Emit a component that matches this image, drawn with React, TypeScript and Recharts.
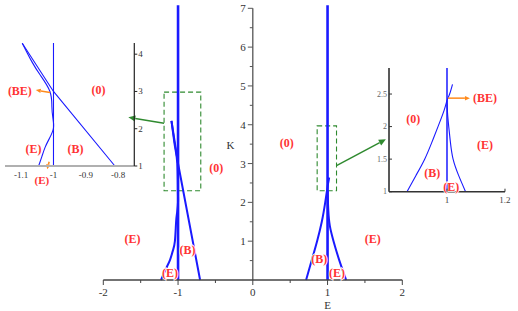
import React from "react";
import { ComposedChart, Line, XAxis, YAxis, ReferenceArea, ReferenceDot, ReferenceLine } from "recharts";

const FONT = '"Liberation Serif", "DejaVu Serif", serif';
const RED = "#ff3333";
const BLUE = "#1a1aff";
const GREEN = "#2f8a2f";
const ORANGE = "#ff8a1c";

type Pt = { E: number; K: number };
type Lbl = { E: number; K: number; text: string };

// main plot
const mainTicksE = [-2, -1.5, -1, -0.5, 0, 0.5, 1, 1.5, 2];
const mainTicksK = [0.5, 1, 1.5, 2, 2.5, 3, 3.5, 4, 4.5, 5, 5.5, 6, 6.5, 7];

const mainVertMinus: Pt[] = [{ E: -1, K: 0 }, { E: -1, K: 7.08 }];
const mainVertPlus: Pt[] = [{ E: 1, K: 0 }, { E: 1, K: 7.08 }];
const mainEdgeMinus: Pt[] = [
  { E: -1.228, K: 0 }, { E: -1.16, K: 0.3 }, { E: -1.107, K: 0.52 }, { E: -1.07, K: 0.75 },
  { E: -1.042, K: 1 }, { E: -1.026, K: 1.5 }, { E: -1.012, K: 1.75 }, { E: -1.0, K: 2.02 },
  { E: -1.002, K: 2.3 }, { E: -1.01, K: 3.0 }, { E: -1.041, K: 3.44 }, { E: -1.067, K: 3.8 },
  { E: -1.088, K: 4.1 },
];
const mainDiagMinus: Pt[] = [{ E: -0.705, K: 0 }, { E: -1.0, K: 3.0 }, { E: -1.088, K: 4.1 }];
const mainBandPlus: Pt[] = [
  { E: 0.713, K: 0 }, { E: 0.79, K: 0.52 }, { E: 0.86, K: 1 }, { E: 0.923, K: 1.5 },
  { E: 0.969, K: 2 }, { E: 1.0, K: 2.4 }, { E: 1.01, K: 2.52 }, { E: 1.022, K: 2.64 },
];
const mainEdgePlus: Pt[] = [
  { E: 1.249, K: 0 }, { E: 1.155, K: 0.52 }, { E: 1.08, K: 1 }, { E: 1.03, K: 1.4 },
  { E: 1.01, K: 1.8 }, { E: 1.0, K: 2.3 },
];

const mainLabels: Lbl[] = [
  { E: -0.49, K: 2.89, text: "(0)" },
  { E: 0.455, K: 3.54, text: "(0)" },
  { E: -1.61, K: 1.06, text: "(E)" },
  { E: -0.875, K: 0.77, text: "(B)" },
  { E: -1.107, K: 0.19, text: "(E)" },
  { E: 0.89, K: 0.53, text: "(B)" },
  { E: 1.125, K: 0.19, text: "(E)" },
  { E: 1.606, K: 1.06, text: "(E)" },
];

// zoom boxes and pointers
const boxMinus = { E1: -1.187, E2: -0.696, K1: 2.3, K2: 4.84 };
const boxPlus = { E1: 0.861, E2: 1.12, K1: 2.3, K2: 3.97 };
const pointerMinus: Pt[] = [{ E: -1.187, K: 4.04 }, { E: -1.665, K: 4.19 }];
const pointerPlus: Pt[] = [{ E: 1.12, K: 2.945 }, { E: 1.78, K: 3.625 }];

// left inset (around E = -1)
const inset1TicksE = [-1.1, -1, -0.9, -0.8];
const inset1TicksK = [1, 2, 3, 4];
const inset1Vert: Pt[] = [{ E: -1, K: 1 }, { E: -1, K: 4.3 }];
const inset1Edge: Pt[] = [
  { E: -1.046, K: 1 }, { E: -1.036, K: 1.25 }, { E: -1.026, K: 1.5 }, { E: -1.012, K: 1.75 },
  { E: -1.0, K: 2.02 }, { E: -1.002, K: 2.3 }, { E: -1.005, K: 2.6 }, { E: -1.011, K: 3.0 },
  { E: -1.041, K: 3.44 }, { E: -1.067, K: 3.8 }, { E: -1.0966, K: 4.295 },
];
const inset1Diag: Pt[] = [{ E: -0.81, K: 1 }, { E: -1.0, K: 3.0 }, { E: -1.0966, K: 4.295 }];
const inset1Labels: Lbl[] = [
  { E: -1.104, K: 3.02, text: "(BE)" },
  { E: -0.861, K: 3.04, text: "(0)" },
  { E: -1.062, K: 1.45, text: "(E)" },
  { E: -0.932, K: 1.45, text: "(B)" },
  { E: -1.036, K: 0.62, text: "(E)" },
];
const inset1Arrows: Pt[][] = [
  [{ E: -1.0103, K: 2.975 }, { E: -1.0548, K: 3.036 }],
  [{ E: -1.0134, K: 1.115 }, { E: -1.0196, K: 0.91 }],
];

// right inset (around E = 1)
const inset2TicksE = [1, 1.2];
const inset2TicksK = [1, 1.5, 2, 2.5];
const inset2Vert: Pt[] = [{ E: 1, K: 1 }, { E: 1, K: 2.9 }];
const inset2Band: Pt[] = [
  { E: 0.862, K: 1 }, { E: 0.893, K: 1.25 }, { E: 0.923, K: 1.5 }, { E: 0.947, K: 1.75 },
  { E: 0.969, K: 2 }, { E: 0.99, K: 2.25 }, { E: 1.0, K: 2.4 }, { E: 1.009, K: 2.5 }, { E: 1.019, K: 2.65 },
];
const inset2Edge: Pt[] = [
  { E: 1.064, K: 1 }, { E: 1.04, K: 1.25 }, { E: 1.021, K: 1.5 }, { E: 1.012, K: 1.75 },
  { E: 1.006, K: 2 }, { E: 1.002, K: 2.2 }, { E: 1.0, K: 2.4 },
];
const inset2Labels: Lbl[] = [
  { E: 1.131, K: 2.437, text: "(BE)" },
  { E: 0.884, K: 2.114, text: "(0)" },
  { E: 1.131, K: 1.718, text: "(E)" },
  { E: 0.949, K: 1.283, text: "(B)" },
  { E: 1.015, K: 1.077, text: "(E)" },
];
const inset2Arrows: Pt[][] = [[{ E: 1.0035, K: 2.437 }, { E: 1.079, K: 2.437 }]];

const arrowShape = (color: string, width: number, head: number) => (p: any) => {
  const { x1, y1, x2, y2 } = p;
  const a = Math.atan2(y2 - y1, x2 - x1);
  const bx = x2 - head * Math.cos(a);
  const by = y2 - head * Math.sin(a);
  const w = head * 0.45;
  const pts = `${x2},${y2} ${bx - w * Math.sin(a)},${by + w * Math.cos(a)} ${bx + w * Math.sin(a)},${by - w * Math.cos(a)}`;
  return (
    <g>
      <line x1={x1} y1={y1} x2={bx} y2={by} stroke={color} strokeWidth={width} />
      <polygon points={pts} fill={color} />
    </g>
  );
};

const redText = (text: string, size = 12) => (p: any) => (
  <text x={p.cx} y={p.cy} textAnchor="middle" dominantBaseline="central" fontFamily={FONT}
    fontWeight="bold" fontSize={size} fill={RED} stroke="#fff" strokeWidth={1.5} paintOrder="stroke">
    {text}
  </text>
);

const plainText = (text: string) => (p: any) => (
  <text x={p.cx} y={p.cy} textAnchor="middle" dominantBaseline="central" fontFamily={FONT} fontSize={11} fill="#333">
    {text}
  </text>
);

const kTick = (k: number) => (p: any) => {
  const major = Number.isInteger(k);
  return (
    <g>
      <line x1={p.cx - (major ? 5 : 3)} x2={p.cx} y1={p.cy} y2={p.cy} stroke="#555" />
      {major && (
        <text x={p.cx - 7} y={p.cy} textAnchor="end" dominantBaseline="central" fontFamily={FONT} fontSize={11} fill="#333">
          {k}
        </text>
      )}
    </g>
  );
};

const mainXTick = (p: any) => {
  const v = p.payload.value;
  const major = Number.isInteger(v);
  return (
    <g>
      <line x1={p.x} x2={p.x} y1={p.y} y2={p.y + (major ? 5 : 3)} stroke="#444" />
      {major && (
        <text x={p.x} y={p.y + 16} textAnchor="middle" fontFamily={FONT} fontSize={11} fill="#333">{v}</text>
      )}
    </g>
  );
};

const inset1XTick = (p: any) => (
  <text x={p.x} y={p.y + 12} textAnchor="middle" fontFamily={FONT} fontSize={9} fill="#333">{p.payload.value}</text>
);
const inset1YTick = (p: any) => (
  <g>
    <line x1={p.x} x2={p.x + 3} y1={p.y} y2={p.y} stroke="#222" />
    <text x={p.x + 4} y={p.y} dominantBaseline="central" fontFamily={FONT} fontSize={9} fill="#333">{p.payload.value}</text>
  </g>
);
const inset2XTick = (p: any) => (
  <g>
    <line x1={p.x} x2={p.x} y1={p.y} y2={p.y - 3} stroke="#333" />
    <text x={p.x} y={p.y + 11} textAnchor="middle" fontFamily={FONT} fontSize={9} fill="#444">{p.payload.value}</text>
  </g>
);
const inset2YTick = (p: any) => (
  <g>
    <line x1={p.x} x2={p.x + 3} y1={p.y} y2={p.y} stroke="#333" />
    <text x={p.x - 2} y={p.y} textAnchor="end" dominantBaseline="central" fontFamily={FONT} fontSize={8} fill="#666">{p.payload.value}</text>
  </g>
);

const curve = (data: Pt[], width: number, key: string, type: any = "natural") => (
  <Line key={key} data={data} dataKey="K" type={type} stroke={BLUE} strokeWidth={width} dot={false}
    activeDot={false} isAnimationActive={false} />
);

export default function App() {
  return (
    <div style={{ position: "fixed", left: 0, top: 0, width: 518, height: 311, background: "#fff" }}>
      <div style={{ position: "absolute", left: 0, top: 0 }}>
        <ComposedChart width={518} height={311} margin={{ top: 5.2, right: 115.7, bottom: 6, left: 103.3 }}>
          <XAxis type="number" dataKey="E" domain={[-2, 2]} ticks={mainTicksE} interval={0} height={25}
            axisLine={{ stroke: "#444", strokeWidth: 1.3 }} tickLine={false} tickSize={0} tickMargin={0} tick={mainXTick} />
          <YAxis type="number" domain={[0, 7.08]} hide />
          <ReferenceLine segment={[{ x: 0, y: 0 }, { x: 0, y: 7 }]} stroke="#555" strokeWidth={1.3} ifOverflow="visible" />
          {mainTicksK.map((k) => (
            <ReferenceDot key={"k" + k} x={0} y={k} r={1} ifOverflow="visible" shape={kTick(k)} />
          ))}
          <ReferenceArea x1={boxMinus.E1} x2={boxMinus.E2} y1={boxMinus.K1} y2={boxMinus.K2} fill="none"
            stroke={GREEN} strokeDasharray="5 3" strokeWidth={1.1} ifOverflow="visible" />
          <ReferenceArea x1={boxPlus.E1} x2={boxPlus.E2} y1={boxPlus.K1} y2={boxPlus.K2} fill="none"
            stroke={GREEN} strokeDasharray="5 3" strokeWidth={1.1} ifOverflow="visible" />
          {curve(mainVertMinus, 2.6, "v1", "linear")}
          {curve(mainVertPlus, 2.6, "v2", "linear")}
          {curve(mainEdgeMinus, 2, "c1")}
          {curve(mainDiagMinus, 2, "c2", "linear")}
          {curve(mainBandPlus, 2, "c3")}
          {curve(mainEdgePlus, 2, "c4")}
          <ReferenceLine segment={[{ x: pointerMinus[0].E, y: pointerMinus[0].K }, { x: pointerMinus[1].E, y: pointerMinus[1].K }]}
            ifOverflow="visible" shape={arrowShape(GREEN, 1.5, 7)} />
          <ReferenceLine segment={[{ x: pointerPlus[0].E, y: pointerPlus[0].K }, { x: pointerPlus[1].E, y: pointerPlus[1].K }]}
            ifOverflow="visible" shape={arrowShape(GREEN, 1.5, 7)} />
          {mainLabels.map((l, i) => (
            <ReferenceDot key={"ml" + i} x={l.E} y={l.K} r={1} ifOverflow="visible" shape={redText(l.text)} />
          ))}
          <ReferenceDot x={-0.3} y={3.48} r={1} ifOverflow="visible" shape={plainText("K")} />
          <ReferenceDot x={1.0} y={-0.64} r={1} ifOverflow="visible" shape={plainText("E")} />
        </ComposedChart>
      </div>

      <div style={{ position: "absolute", left: 0, top: 0 }}>
        <ComposedChart width={159.3} height={186} margin={{ top: 43, right: 0, bottom: 0, left: 5 }}>
          <XAxis type="number" dataKey="E" domain={[-1.15, -0.75]} ticks={inset1TicksE} interval={0} height={20}
            axisLine={{ stroke: "#b0b0b0", strokeWidth: 2 }} tickLine={false} tickSize={0} tickMargin={0} tick={inset1XTick} />
          <YAxis type="number" orientation="right" domain={[1, 4.3]} ticks={inset1TicksK} interval={0} width={25}
            axisLine={{ stroke: "#222", strokeWidth: 1.2 }} tickLine={false} tickSize={0} tickMargin={0} tick={inset1YTick} />
          {curve(inset1Vert, 1.1, "i1v", "linear")}
          {curve(inset1Edge, 1.1, "i1e")}
          {curve(inset1Diag, 1.1, "i1d", "linear")}
          {inset1Arrows.map((a, i) => (
            <ReferenceLine key={"i1a" + i} segment={[{ x: a[0].E, y: a[0].K }, { x: a[1].E, y: a[1].K }]}
              ifOverflow="visible" shape={arrowShape(ORANGE, 1.5, 5)} />
          ))}
          {inset1Labels.map((l, i) => (
            <ReferenceDot key={"i1l" + i} x={l.E} y={l.K} r={1} ifOverflow="visible"
              shape={redText(l.text, i === 4 ? 11 : 12)} />
          ))}
        </ComposedChart>
      </div>

      <div style={{ position: "absolute", left: 360, top: 60 }}>
        <ComposedChart width={155} height={149.7} margin={{ top: 8, right: 10, bottom: 0, left: 9 }}>
          <XAxis type="number" dataKey="E" domain={[0.8, 1.2]} ticks={inset2TicksE} interval={0} height={18}
            axisLine={{ stroke: "#333", strokeWidth: 1.5 }} tickLine={false} tickSize={0} tickMargin={0} tick={inset2XTick} />
          <YAxis type="number" domain={[1, 2.9]} ticks={inset2TicksK} interval={0} width={20}
            axisLine={{ stroke: "#222", strokeWidth: 1.5 }} tickLine={false} tickSize={0} tickMargin={0} tick={inset2YTick} />
          {curve(inset2Vert, 1.5, "i2v", "linear")}
          {curve(inset2Band, 1.1, "i2b")}
          {curve(inset2Edge, 1.1, "i2e")}
          {inset2Arrows.map((a, i) => (
            <ReferenceLine key={"i2a" + i} segment={[{ x: a[0].E, y: a[0].K }, { x: a[1].E, y: a[1].K }]}
              ifOverflow="visible" shape={arrowShape(ORANGE, 1.5, 5)} />
          ))}
          {inset2Labels.map((l, i) => (
            <ReferenceDot key={"i2l" + i} x={l.E} y={l.K} r={1} ifOverflow="visible" shape={redText(l.text)} />
          ))}
        </ComposedChart>
      </div>
    </div>
  );
}
